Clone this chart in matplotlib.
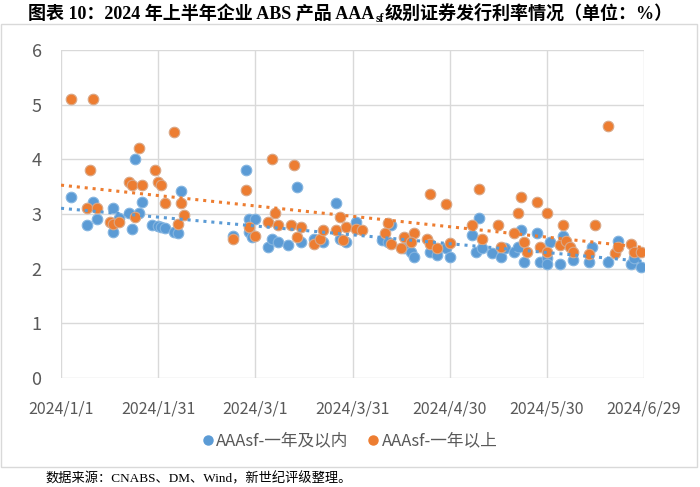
import matplotlib
matplotlib.use('Agg')
import matplotlib.pyplot as plt
import numpy as np
from matplotlib.patches import Rectangle
from matplotlib.lines import Line2D

# ---- data (days since 2024-01-01, rate %) ----
blue_days = [3, 8, 10, 11, 16, 16, 18, 21, 22, 23, 24, 25, 28, 30, 31, 32, 35, 36, 37,
             53, 57, 58, 60, 58, 59, 64, 65, 67, 70, 73, 74, 78, 81, 85, 86, 88, 91,
             99, 101, 102, 106, 108, 109, 114, 116, 119, 120, 127, 128, 129, 130, 133,
             136, 137, 140, 141, 142, 143, 147, 148, 150, 151, 150, 154, 155, 158, 163,
             164, 169, 172, 176, 177, 179]
blue_vals = [3.31, 2.80, 3.22, 2.91, 3.11, 2.67, 2.93, 3.02, 2.72, 4.00, 3.02, 3.22, 2.80,
             2.78, 2.77, 2.74, 2.67, 2.65, 3.42, 2.60, 3.80, 2.91, 2.91, 2.67, 2.58, 2.40,
             2.54, 2.49, 2.43, 3.49, 2.49, 2.55, 2.49, 3.21, 2.55, 2.49, 2.86, 2.52, 2.49,
             2.80, 2.37, 2.31, 2.21, 2.31, 2.25, 2.37, 2.21, 2.61, 2.31, 2.92, 2.37, 2.28,
             2.21, 2.37, 2.31, 2.40, 2.71, 2.13, 2.66, 2.13, 2.19, 2.49, 2.08, 2.08, 2.60,
             2.16, 2.13, 2.40, 2.13, 2.51, 2.08, 2.19, 2.03]

orange_days = [3, 10, 9, 8, 11, 15, 16, 18, 21, 22, 24, 25, 23, 29, 30, 31, 32, 35, 37, 38,
               36, 53, 57, 58, 60, 65, 72, 66, 64, 67, 71, 74, 73, 78, 80, 81, 85, 86, 88,
               87, 91, 93, 101, 100, 106, 109, 102, 105, 108, 113, 114, 116, 120, 114, 119,
               129, 127, 130, 135, 136, 140, 141, 142, 143, 144, 147, 148, 150, 150, 155,
               154, 156, 157, 158, 163, 165, 169, 171, 172, 176, 177, 179]
orange_vals = [5.10, 5.10, 3.80, 3.11, 3.11, 2.86, 2.81, 2.86, 3.59, 3.53, 4.21, 3.53, 2.95,
               3.80, 3.59, 3.53, 3.21, 4.50, 3.21, 2.98, 2.81, 2.54, 3.44, 2.77, 2.60, 4.00,
               3.89, 3.01, 2.86, 2.80, 2.80, 2.76, 2.58, 2.46, 2.55, 2.71, 2.71, 2.95, 2.76,
               2.52, 2.72, 2.71, 2.83, 2.66, 2.58, 2.66, 2.45, 2.37, 2.49, 2.55, 2.46, 2.37,
               2.47, 3.36, 3.18, 3.46, 2.80, 2.55, 2.80, 2.40, 2.66, 3.01, 3.31, 2.49, 2.31,
               3.22, 2.39, 3.01, 2.31, 2.80, 2.43, 2.51, 2.39, 2.31, 2.27, 2.80, 4.61, 2.28,
               2.40, 2.45, 2.31, 2.31]

x_tick_days = [0, 30, 60, 90, 120, 150, 180]
x_tick_labels = ['2024/1/1', '2024/1/31', '2024/3/1', '2024/3/31', '2024/4/30',
                 '2024/5/30', '2024/6/29']
y_ticks = [0, 1, 2, 3, 4, 5, 6]

series_names = ['AAAsf-一年及以内', 'AAAsf-一年以上']
title_parts = ['图表 10：2024 年上半年企业 ABS 产品 AAA', 'sf', '级别证券发行利率情况（单位：%）']
source_text = '数据来源：CNABS、DM、Wind，新世纪评级整理。'

BLUE = '#5B9BD5'
ORANGE = '#ED7D31'
GRID = '#D9D9D9'
TXT = '#595959'

sans = ['Liberation Sans Narrow', 'Noto Sans CJK SC', 'DejaVu Sans']
serif = ['Liberation Serif', 'Noto Sans CJK SC', 'DejaVu Sans']

fig = plt.figure(figsize=(7, 4.87), dpi=100)
W, H = 700, 487
ax = fig.add_axes([61 / W, 1 - 378 / H, (644 - 61) / W, (378 - 50) / H])

ax.scatter(blue_days, blue_vals, s=58, color=BLUE, edgecolors='#85B5E0',
           linewidths=0.8, zorder=3)
ax.scatter(orange_days, orange_vals, s=58, color=ORANGE, edgecolors='#D9A888',
           linewidths=0.8, zorder=4)

xs = np.array([0, 180])
for d, v, c in [(blue_days, blue_vals, BLUE), (orange_days, orange_vals, ORANGE)]:
    k, b = np.polyfit(d, v, 1)
    ax.plot(xs, k * xs + b, color=c, lw=2.2, linestyle=(0, (1, 1.6)), zorder=5)

ax.set_xlim(0, 180)
ax.set_ylim(0, 6)
ax.set_xticks(x_tick_days)
ax.set_xticklabels(x_tick_labels)
ax.set_yticks(y_ticks)
ax.grid(True, color=GRID, lw=1.0)
ax.set_axisbelow(True)
for s in ax.spines.values():
    s.set_visible(False)
ax.tick_params(axis='both', length=0, colors=TXT)
ax.tick_params(axis='x', pad=16, labelsize=11.5)
ax.tick_params(axis='y', pad=14, labelsize=13)
for lab in ax.get_xticklabels() + ax.get_yticklabels():
    lab.set_family(sans)

# legend
handles = [Line2D([], [], marker='o', color=BLUE, linestyle='none', markersize=6.5),
           Line2D([], [], marker='o', color=ORANGE, linestyle='none', markersize=6.5)]
leg = fig.legend(handles, series_names, loc='center', bbox_to_anchor=(0.5, 1 - 441 / H),
                 ncol=2, frameon=False, handlelength=0.6, handletextpad=0.2,
                 columnspacing=1.2, prop={'family': sans, 'size': 12})
for t in leg.get_texts():
    t.set_color(TXT)

# chart frame
fig.patches.append(Rectangle((1 / W, 1 - 467 / H), 696 / W, (467 - 24) / H,
                             transform=fig.transFigure, fill=False, edgecolor=GRID, lw=1))

# source
fig.text(45 / W, 1 - 479 / H, source_text, family=serif, fontsize=9.5, va='center',
         ha='left', color='black')

# title in pieces (with subscript)
renderer = fig.canvas.get_renderer()
sizes = [13, 8.5, 13]
offs = [0, -3.5, 0]
gaps = [0, 1, 0]
texts = []
widths = []
for p, fs in zip(title_parts, sizes):
    t = fig.text(0, 0, p, family=serif, fontsize=fs, fontweight='bold', ha='left',
                 va='baseline', color='black')
    texts.append(t)
    widths.append(t.get_window_extent(renderer).width)
total = sum(widths) + sum(gaps)
x0 = (W - total) / 2
base = H - 19
for t, w, o, g in zip(texts, widths, offs, gaps):
    x0 += g
    t.set_position((x0 / W, (base + o) / H))
    x0 += w + g

fig.savefig('out.png', dpi=100)
